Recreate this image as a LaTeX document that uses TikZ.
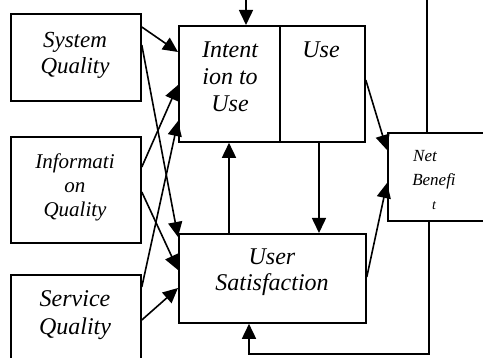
\documentclass[tikz,border=0pt]{standalone}
\usepackage{fontspec}
\setmainfont{Liberation Serif}
\usetikzlibrary{arrows.meta}
\begin{document}
\begin{tikzpicture}[x=1pt,y=-1pt,
  box/.style={draw,line width=1.8pt,inner sep=0pt,anchor=north west},
  lbl/.style={align=center,inner sep=0pt},
  arr/.style={line width=1.6pt,-{Triangle[length=15pt,width=14pt]}}]
\useasboundingbox (0,0) rectangle (483,358);
\clip (0,0) rectangle (483,358);

% boxes
\node[box,minimum width=130pt,minimum height=87pt]  (sq)  at (10,13)  {};
\node[box,minimum width=130pt,minimum height=106pt] (iq)  at (10,136) {};
\node[box,minimum width=130pt,minimum height=110pt] (svq) at (10,274) {};
\node[box,minimum width=101pt,minimum height=116pt] (iu)  at (178,25) {};
\node[box,minimum width=85pt,minimum height=116pt]  (use) at (279,25) {};
\node[box,minimum width=187pt,minimum height=89pt]  (us)  at (178,233) {};
\node[box,minimum width=100pt,minimum height=88pt]  (nb)  at (387,132) {};

% labels
\node[lbl,font=\itshape\fontsize{23}{26}\selectfont] (sqt)  at (75,55)    {System\\Quality};
\node[lbl,font=\itshape\fontsize{21}{24}\selectfont] (iqt)  at (75,187)   {Informati\\on\\Quality};
\node[lbl,font=\itshape\fontsize{24}{28}\selectfont] (svqt) at (75,315.5) {Service\\Quality};
\node[lbl,font=\itshape\fontsize{24}{27}\selectfont] (iut)  at (230,77)   {Intent\\ion to\\Use};
\node[lbl,font=\itshape\fontsize{24}{27}\selectfont,anchor=base] (uset) at (321,58) {Use};
\node[lbl,font=\itshape\fontsize{24}{26}\selectfont] (ust)  at (272,272)  {User\\Satisfaction};
\node[lbl,font=\itshape\fontsize{17}{24}\selectfont] (nbt)  at (434,180.4)
  {Net\hspace*{18pt}\\Benefi\\{\fontsize{14}{24}\selectfont t}};

% quality dimensions into intention and satisfaction
\draw[arr] (sq.east |- 0,27)   -- (iu.west |- 0,52);
\draw[arr] (sq.east |- 0,45)   -- (us.west |- 0,237);
\draw[arr] (iq.east |- 0,167)  -- (iu.west |- 0,85);
\draw[arr] (iq.east |- 0,192)  -- (us.west |- 0,270);
\draw[arr] (svq.east |- 0,287) -- (iu.west |- 0,121);
\draw[arr] (svq.east |- 0,320) -- (us.west |- 0,288);

% links between the central boxes
\draw[arr] (us.north -| 229,0)  -- (iu.south -| 229,0);
\draw[arr] (use.south -| 319,0) -- (us.north -| 319,0);
\draw[arr] (use.east |- 0,80)   -- (nb.west |- 0,150);
\draw[arr] (us.east |- 0,277)   -- (nb.west |- 0,183);

% feedback loops from net benefits
\draw[arr] (nb.north -| 427,0) -- (427,-30) -| (iu.north -| 246,0);
\draw[arr] (nb.south -| 429,0) |- (249,354) -- (us.south -| 249,0);
\end{tikzpicture}
\end{document}
